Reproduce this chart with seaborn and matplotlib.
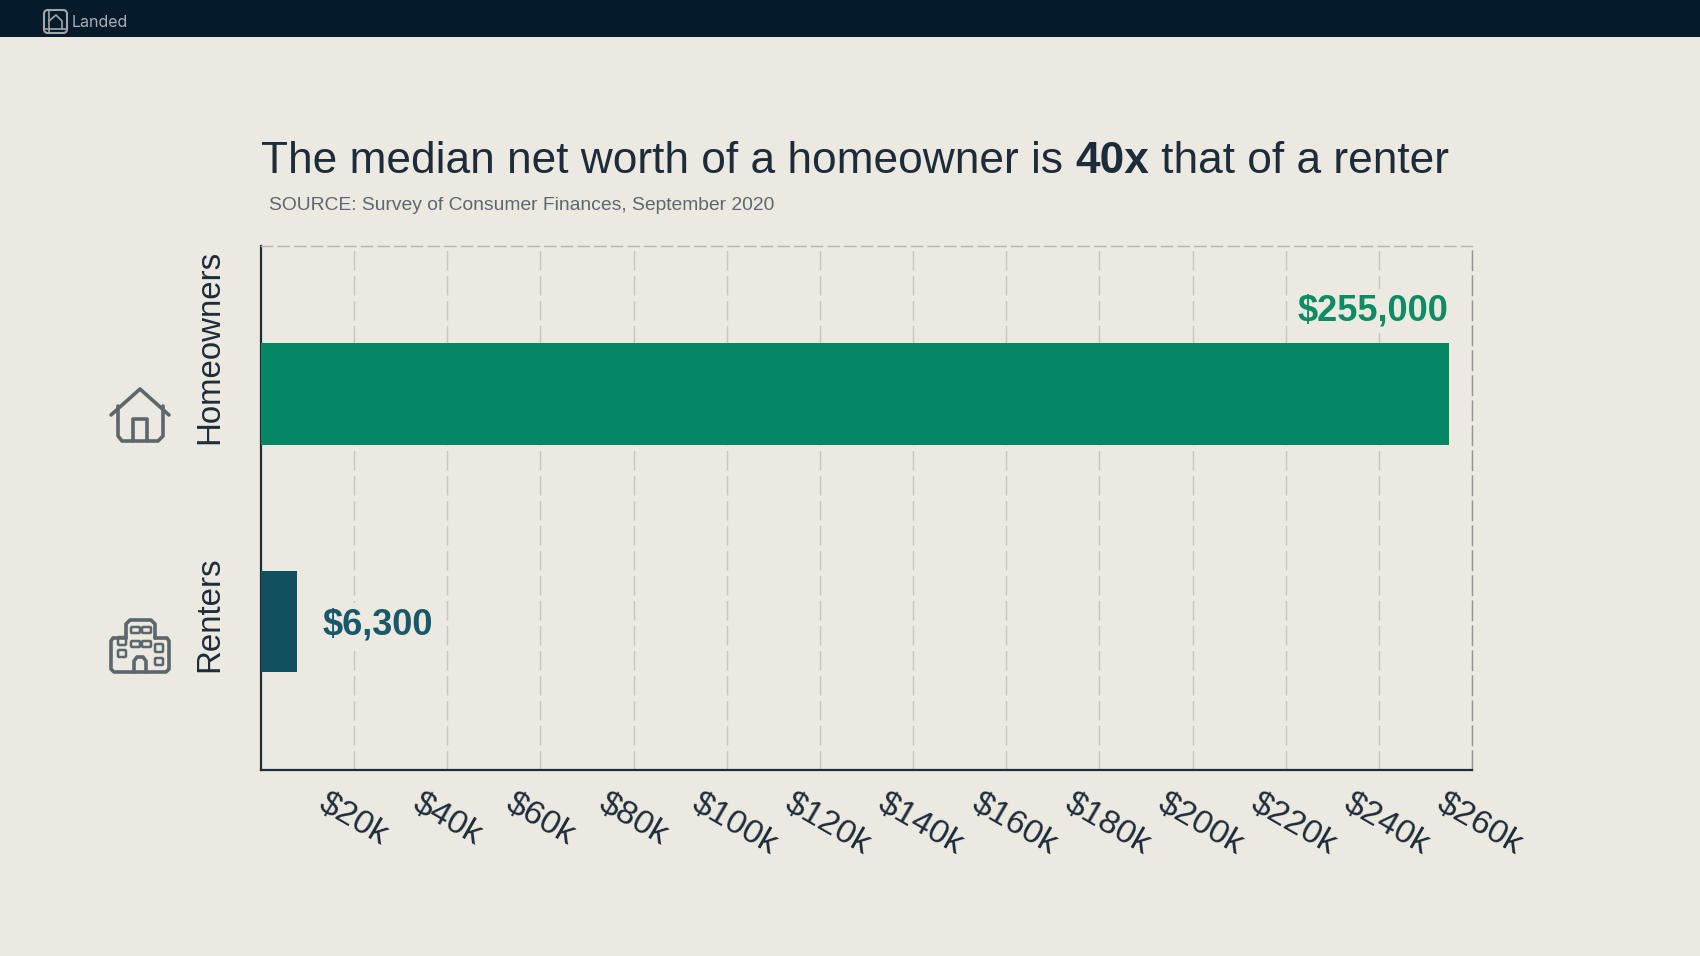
import matplotlib
matplotlib.use('Agg')
import matplotlib.pyplot as plt
import matplotlib.transforms as mtrans
from matplotlib.patches import FancyBboxPatch, Rectangle
import pandas as pd
import seaborn as sns

groups = ['Homeowners', 'Renters']
bar_values = [255000, 7800]
value_labels = ['$255,000', '$6,300']
tick_values = list(range(20000, 280000, 20000))
tick_labels = ['$' + str(v // 1000) + 'k' for v in tick_values]

BG = '#ECE9E1'
DARK = '#1D2C3B'
ICON = '#5C666D'
GREEN = '#068764'
TEAL = '#11515F'
GREEN_TXT = '#0E8A64'
TEAL_TXT = '#17586A'
GRID = '#C6C5BE'
EDGE = '#93938F'
SANS = 'Liberation Sans'

W, H = 1700, 956

sns.set_theme(style='white', rc={'figure.facecolor': BG, 'axes.facecolor': BG})
plt.rcParams['font.family'] = ['Inter', 'DejaVu Sans']

df = pd.DataFrame({'group': groups, 'value': bar_values})

fig = plt.figure(figsize=(W / 100, H / 100), dpi=100)
ax = fig.add_axes([261 / W, 1 - 769.5 / H, 1211 / W, 523.5 / H])

sns.barplot(data=df, x='value', y='group', hue='group', palette=[GREEN, TEAL],
            saturation=1, width=0.446, legend=False, ax=ax, zorder=3, linewidth=0)

ax.set_xlim(0, 260000)
ax.set_ylim(1.65, -0.65)
ax.set_xlabel('')
ax.set_ylabel('')
ax.set_xticks(tick_values)
ax.set_xticklabels(tick_labels, rotation=-30, ha='left', va='top', fontsize=24.5,
                   color=DARK, family=SANS)
ax.tick_params(axis='x', length=0, pad=13)
ax.tick_params(axis='y', length=0, pad=37)
ax.grid(True, axis='x', color=GRID, lw=1, ls=(0, (14, 4)), zorder=0)
ax.set_axisbelow(True)

for side in ['left', 'bottom']:
    ax.spines[side].set_color(DARK)
    ax.spines[side].set_linewidth(1.6)
ax.spines['top'].set_color('#B5B4AD')
ax.spines['top'].set_linewidth(1)
ax.spines['top'].set_linestyle((0, (8, 4)))
ax.spines['right'].set_color(EDGE)
ax.spines['right'].set_linewidth(1)
ax.spines['right'].set_linestyle((0, (14, 4)))

# x labels start left of their tick
xshift = mtrans.ScaledTranslation(-40 / 100, 0, fig.dpi_scale_trans)
for lab in ax.get_xticklabels():
    lab.set_transform(lab.get_transform() + xshift)

# the category names sit level with the bottom of each bar
shift = mtrans.ScaledTranslation(0, -50 / 100, fig.dpi_scale_trans)
for lab in ax.get_yticklabels():
    lab.set_rotation(90)
    lab.set_va('bottom')
    lab.set_ha('center')
    lab.set_fontsize(23.8)
    lab.set_color(DARK)
    lab.set_family(SANS)
    lab.set_transform(lab.get_transform() + shift)

box = dict(facecolor=BG, edgecolor='none', pad=3)
ax.annotate(value_labels[0], (bar_values[0], 0), xytext=(0, 83), textcoords='offset pixels',
            ha='right', va='center', fontsize=26, fontweight='bold', color=GREEN_TXT,
            family=SANS, bbox=box, zorder=4)
ax.annotate(value_labels[1], (bar_values[1], 1), xytext=(25, -3), textcoords='offset pixels',
            ha='left', va='center', fontsize=26, fontweight='bold', color=TEAL_TXT,
            family=SANS, bbox=box, zorder=4)

# overlay in pixel coordinates for header, title and icons
ov = fig.add_axes([0, 0, 1, 1], zorder=10)
ov.set_xlim(0, W)
ov.set_ylim(H, 0)
ov.axis('off')

ov.add_patch(Rectangle((0, 0), W, 37, fc='#051B2B', ec='none'))
ov.text(72, 22, 'Landed', color='#A9AEB1', fontsize=11.5, va='center')


def line(xs, ys, color=ICON, lw=2.6):
    ov.plot(xs, ys, color=color, lw=lw, solid_capstyle='round', solid_joinstyle='round')


def rbox(x, y, w, h, r=2, color=ICON, lw=2.2):
    ov.add_patch(FancyBboxPatch((x + r, y + r), w - 2 * r, h - 2 * r, boxstyle=f'round,pad={r}',
                                fc='none', ec=color, lw=lw))


# logo
logo = '#A0A6A9'
rbox(44, 10, 23, 23, r=4, color=logo, lw=1.5)
line([49, 49], [10, 33], logo, 1.2)
line([44, 67], [29, 29], logo, 1.2)
line([49, 56, 62, 62], [21, 15, 21, 29], logo, 1.2)

# house
line([111, 140, 169], [415, 389, 415])
line([118, 118, 122, 158, 163, 163], [406, 436, 441, 441, 436, 406])
line([133, 133, 147, 147], [441, 419, 419, 441])

# building
line([126, 126, 130, 151, 155, 155], [638, 624, 620, 620, 624, 638])
line([126, 113, 111, 111, 114, 166, 169, 169, 167, 155],
     [638, 638, 641, 669, 672, 672, 669, 641, 638, 638])
line([134, 134, 137, 143, 146, 146], [672, 661, 657, 657, 661, 672])
for wx, wy, ww, wh in [(118, 637, 8, 8), (118, 650, 8, 7), (155, 644, 8, 8), (155, 658, 8, 7),
                       (131, 627, 9, 6), (142, 627, 9, 6), (131, 641, 9, 6), (142, 641, 9, 6)]:
    rbox(wx, wy, ww, wh, r=1.2, lw=1.8)

# title made of three pieces, placed one after the other
rend = fig.canvas.get_renderer()
x = 261
for piece, weight in [('The median net worth of a homeowner is ', 'normal'),
                      ('40x', 'bold'), (' that of a renter', 'normal')]:
    t = ov.text(x, 161, piece.replace(' ', '\u00a0'), fontsize=31.9, fontweight=weight, color=DARK,
                va='center', ha='left', family=SANS)
    x = ov.transData.inverted().transform(t.get_window_extent(rend))[1][0]

ov.text(269, 205, 'SOURCE: Survey of Consumer Finances, September 2020', fontsize=13.9,
        color='#5C6770', va='center', ha='left', family=SANS)

fig.savefig('out.png', dpi=100, facecolor=BG)
